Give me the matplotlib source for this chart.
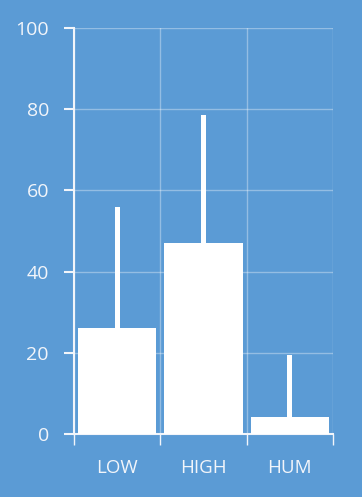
import matplotlib
matplotlib.use("Agg")
import matplotlib.pyplot as plt
import numpy as np

categories = ["LOW", "HIGH", "HUM"]
main_values = [26.1, 47.0, 4.2]
peak_values = [55.8, 78.6, 19.4]
y_ticks = [0, 20, 40, 60, 80, 100]

bg = "#5b9bd5"
fg = "#f2f5fa"

plt.rcParams['font.family'] = ['Open Sans', 'DejaVu Sans']

fig = plt.figure(figsize=(3.62, 4.97), dpi=100, facecolor=bg)
ax = fig.add_axes([0.2044, 0.1268, 0.7155, 0.8169], facecolor=bg)

x = np.arange(len(categories))
ax.bar(x, peak_values, width=0.06, color="white", zorder=3, edgecolor="none")
ax.bar(x, main_values, width=0.91, color="white", zorder=4, edgecolor="none")

ax.set_xlim(-0.5, len(categories) - 0.5)
ax.set_ylim(0, 100)
ax.set_yticks(y_ticks)
ax.set_yticklabels([str(v) for v in y_ticks])
ax.set_xticks(x)
ax.set_xticklabels(categories)
ax.set_xticks(np.arange(-0.5, len(categories)), minor=True)

ax.grid(True, which="major", axis="y", color="white", alpha=0.35, linewidth=1, zorder=1)
ax.grid(True, which="minor", axis="x", color="white", alpha=0.35, linewidth=1, zorder=1)

for s in ["top", "right"]:
    ax.spines[s].set_visible(False)
for s in ["left", "bottom"]:
    ax.spines[s].set_color(fg)
    ax.spines[s].set_linewidth(1.5)

ax.tick_params(axis="y", colors=fg, labelcolor=fg, length=7, width=1.5, labelsize=14, pad=11)
ax.tick_params(axis="x", which="major", length=0, labelcolor=fg, labelsize=13.5, pad=18)
ax.tick_params(axis="x", which="minor", length=8, width=1, colors=fg)

fig.savefig("out.png", dpi=100, facecolor=bg)
